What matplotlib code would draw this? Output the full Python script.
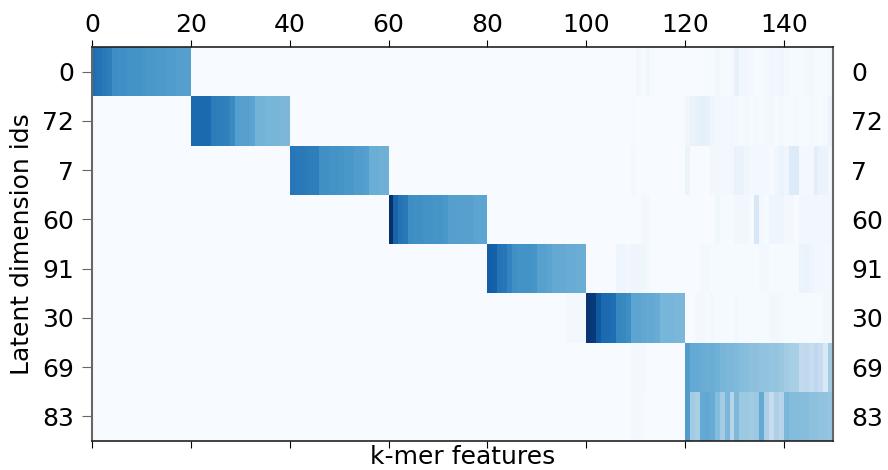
import numpy as np
import matplotlib
matplotlib.use("Agg")
from matplotlib import pyplot as plt

# latent dimensions (rows, top to bottom) and feature count
dim_ids = ["0", "72", "7", "60", "91", "30", "69", "83"]
n_features = 150
block_starts = [0, 20, 40, 60, 80, 100, 120, 120]

# strong weights for each latent dimension's own k-mer block
block_0 = [0.76, 0.74, 0.72, 0.70, 0.64, 0.63, 0.63, 0.62, 0.62, 0.62,
           0.61, 0.60, 0.60, 0.59, 0.59, 0.58, 0.58, 0.57, 0.57, 0.56]
block_72 = [0.78, 0.78, 0.78, 0.77, 0.71, 0.70, 0.70, 0.69, 0.65, 0.57,
            0.56, 0.56, 0.55, 0.48, 0.48, 0.47, 0.47, 0.47, 0.46, 0.46]
block_7 = [0.73, 0.72, 0.72, 0.71, 0.70, 0.70, 0.63, 0.63, 0.62, 0.62,
           0.61, 0.60, 0.60, 0.58, 0.58, 0.57, 0.50, 0.50, 0.49, 0.49]
block_60 = [1.00, 0.80, 0.74, 0.72, 0.64, 0.63, 0.63, 0.62, 0.62, 0.61,
            0.61, 0.60, 0.57, 0.57, 0.56, 0.56, 0.56, 0.55, 0.54, 0.54]
block_91 = [0.82, 0.81, 0.74, 0.73, 0.68, 0.63, 0.62, 0.62, 0.62, 0.61,
            0.56, 0.56, 0.55, 0.52, 0.52, 0.52, 0.51, 0.51, 0.50, 0.50]
block_30 = [0.98, 0.96, 0.84, 0.78, 0.77, 0.76, 0.67, 0.66, 0.64, 0.54,
            0.54, 0.53, 0.52, 0.52, 0.51, 0.47, 0.47, 0.47, 0.46, 0.46]
block_69 = [0.58, 0.52, 0.52, 0.51, 0.50, 0.50, 0.49, 0.47, 0.46, 0.46,
            0.45, 0.44, 0.43, 0.42, 0.42, 0.41, 0.41, 0.40, 0.40, 0.39,
            0.36, 0.35, 0.34, 0.26, 0.27, 0.24, 0.28, 0.25, 0.15, 0.36]
block_83 = [0.58, 0.36, 0.34, 0.52, 0.53, 0.51, 0.44, 0.36, 0.46, 0.30,
            0.45, 0.38, 0.38, 0.37, 0.38, 0.52, 0.33, 0.24, 0.33, 0.30,
            0.46, 0.44, 0.44, 0.43, 0.43, 0.42, 0.42, 0.41, 0.41, 0.40]

# faint weights on features 100-149
tail_0 = [0, 0, 0, 0, 0, 0, 0, 0, 0, 0,
          0.03, 0.01, 0.03, 0.01, 0, 0, 0, 0, 0, 0,
          0, 0, 0, 0, 0.01, 0.01, 0.03, 0.01, 0.01, 0.02,
          0.08, 0.03, 0.03, 0.02, 0.01, 0.01, 0.02, 0.04, 0.03, 0.04,
          0.02, 0.01, 0.01, 0.01, 0.02, 0.03, 0.01, 0.01, 0.01, 0.02]
tail_72 = [0, 0, 0, 0, 0, 0, 0, 0, 0, 0.01,
           0, 0, 0, 0, 0, 0, 0, 0, 0, 0,
           0.04, 0.07, 0.08, 0.09, 0.08, 0.05, 0.03, 0.02, 0.02, 0.03,
           0.02, 0.01, 0.02, 0.01, 0.02, 0.01, 0.02, 0.03, 0.01, 0.02,
           0.01, 0.01, 0.02, 0.01, 0.01, 0.02, 0.01, 0.01, 0.02, 0.06]
tail_7 = [0, 0, 0, 0, 0, 0, 0, 0, 0, 0.02,
          0, 0, 0, 0, 0, 0, 0, 0, 0, 0,
          0.06, 0, 0, 0, 0, 0.03, 0.03, 0.02, 0.02, 0.03,
          0.07, 0.07, 0.04, 0.02, 0.02, 0.02, 0.02, 0.01, 0.04, 0.07,
          0.05, 0.13, 0.13, 0.02, 0.02, 0.02, 0.10, 0.07, 0.06, 0.03]
tail_60 = [0, 0, 0, 0, 0, 0, 0, 0, 0, 0,
           0, 0.02, 0.02, 0, 0, 0, 0, 0, 0, 0,
           0, 0, 0, 0, 0, 0, 0.04, 0.01, 0.01, 0.01,
           0.03, 0.03, 0.03, 0.01, 0.16, 0.02, 0.01, 0.05, 0.05, 0.05,
           0.02, 0.02, 0, 0.03, 0.03, 0.03, 0.03, 0.03, 0.03, 0.04]
tail_91 = [0, 0, 0, 0, 0, 0, 0.05, 0.05, 0.03, 0.05,
           0.05, 0.04, 0.02, 0.01, 0, 0, 0, 0, 0, 0,
           0, 0, 0, 0.02, 0.02, 0.01, 0.01, 0.01, 0.01, 0.01,
           0.01, 0.01, 0.01, 0.01, 0.01, 0.02, 0.02, 0.01, 0.01, 0.01,
           0.01, 0.01, 0.01, 0.06, 0.07, 0.05, 0.03, 0.03, 0.02, 0.03]
# features 120-149 for dim 30, 100-119 for dims 69 and 83
tail_30 = [0, 0, 0.02, 0.02, 0.01, 0.02, 0.01, 0.01, 0.01, 0.01,
           0.02, 0.01, 0.01, 0.01, 0.01, 0.01, 0.01, 0.03, 0.03, 0.02,
           0.01, 0.01, 0.01, 0.01, 0.01, 0.01, 0.01, 0.01, 0.03, 0.03]
head_30 = [0.02, 0.02, 0.02, 0.02]  # features 96-99
head_69 = [0, 0, 0, 0, 0, 0, 0, 0, 0, 0.02,
           0.02, 0.02, 0, 0, 0, 0, 0, 0, 0, 0]
head_83 = [0, 0, 0, 0, 0, 0, 0, 0, 0, 0.02,
           0.02, 0.01, 0, 0, 0, 0, 0, 0, 0, 0]

blocks = [block_0, block_72, block_7, block_60, block_91, block_30,
          block_69, block_83]

# assemble the full weight matrix
weights = np.zeros((len(dim_ids), n_features))
for row, (start, vals) in enumerate(zip(block_starts, blocks)):
    weights[row, start:start + len(vals)] = vals
for row, vals in enumerate([tail_0, tail_72, tail_7, tail_60, tail_91]):
    weights[row, 100:150] = vals
weights[5, 120:150] = tail_30
weights[5, 96:100] = head_30
weights[6, 100:120] = head_69
weights[7, 100:120] = head_83

fig = plt.figure(figsize=(8.88, 4.70), dpi=100)
ax = fig.add_axes([0.1036, 0.0617, 0.8348, 0.8383])

ax.pcolormesh(np.arange(n_features + 1), np.arange(len(dim_ids) + 1),
              weights, cmap="Blues", vmin=0, vmax=1)
ax.set_xlim(0, n_features)
ax.set_ylim(len(dim_ids), 0)

# x ticks on both sides, numbers only on top
xt = np.arange(0, n_features, 20)
ax.set_xticks(xt)
ax.set_xticklabels([str(v) for v in xt])
ax.tick_params(axis="x", top=True, labeltop=True, bottom=True,
               labelbottom=False, labelsize=18, length=5, pad=2)

# row ids on both sides, tick marks only on the left
ax.set_yticks(np.arange(len(dim_ids)) + 0.5)
ax.set_yticklabels(dim_ids)
ax.tick_params(axis="y", left=True, right=False, labelright=True,
               labelsize=18, length=7, pad=6, color="#666666")

ax.set_xlabel("k-mer features", fontsize=18, labelpad=-2)
ax.set_ylabel("Latent dimension ids", fontsize=18, labelpad=6)

for side in ["left", "right"]:
    ax.spines[side].set_color("#666666")
    ax.spines[side].set_linewidth(1.5)
for side in ["top", "bottom"]:
    ax.spines[side].set_color("#222222")
    ax.spines[side].set_linewidth(1.2)

fig.savefig("out.png", dpi=100)
